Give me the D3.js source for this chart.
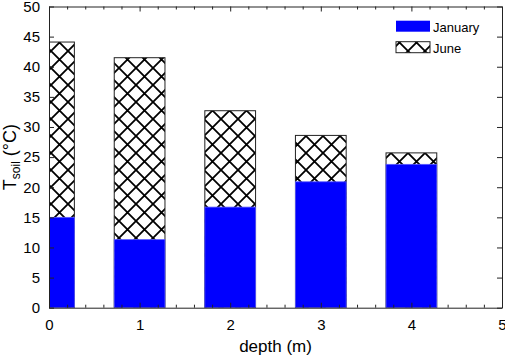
<!DOCTYPE html>
<html>
<head>
<meta charset="utf-8">
<script src="https://cdn.jsdelivr.net/npm/d3@7/dist/d3.min.js"></script>
<style>
  body { margin: 0; background: #fff; }
  svg { display: block; font-family: "Liberation Sans", Arial, sans-serif; }
</style>
</head>
<body>
<div id="chart"></div>
<script>
const depths = [0, 1, 2, 3, 4];
const january = [15.0, 11.3, 16.7, 20.9, 23.8];
const june = [44.1, 41.5, 32.7, 28.6, 25.7];
const xTicks = [0, 1, 2, 3, 4, 5];
const yTicks = [0, 5, 10, 15, 20, 25, 30, 35, 40, 45, 50];
const seriesNames = ['January', 'June'];

const width = 505, height = 362;
const margin = { top: 6.5, right: 3, bottom: 54.3, left: 49 };
const plotW = width - margin.left - margin.right;
const plotH = height - margin.top - margin.bottom;
const barWidth = 0.56;

const svg = d3.select('#chart').append('svg')
    .attr('width', width)
    .attr('height', height);

const defs = svg.append('defs');
const tile = 17;
const hatch = defs.append('pattern')
    .attr('id', 'hatch')
    .attr('patternUnits', 'userSpaceOnUse')
    .attr('width', tile)
    .attr('height', tile);
hatch.append('rect').attr('width', tile).attr('height', tile).attr('fill', '#fff');
// two diagonals plus corner pieces so the strokes join across tiles
hatch.append('path')
    .attr('d', `M0,0L${tile},${tile}M-4,${tile - 4}L4,${tile + 4}M${tile - 4},-4L${tile + 4},4` +
               `M0,${tile}L${tile},0M-4,4L4,-4M${tile - 4},${tile + 4}L${tile + 4},${tile - 4}`)
    .attr('stroke', '#000')
    .attr('stroke-width', 1.8)
    .attr('fill', 'none');

defs.append('clipPath').attr('id', 'plotClip')
    .append('rect')
    .attr('x', margin.left).attr('y', margin.top)
    .attr('width', plotW).attr('height', plotH);

const x = d3.scaleLinear().domain([0, 5]).range([margin.left, margin.left + plotW]);
const y = d3.scaleLinear().domain([0, 50]).range([margin.top + plotH, margin.top]);

const bars = svg.append('g').attr('clip-path', 'url(#plotClip)');

// June drawn behind, January in front
bars.selectAll('rect.june')
    .data(depths)
    .enter().append('rect')
    .attr('class', 'june')
    .attr('x', d => x(d - barWidth / 2))
    .attr('width', x(barWidth) - x(0))
    .attr('y', (d, i) => y(june[i]))
    .attr('height', (d, i) => y(0) - y(june[i]))
    .attr('fill', 'url(#hatch)')
    .attr('stroke', '#222')
    .attr('stroke-width', 1);

bars.selectAll('rect.jan')
    .data(depths)
    .enter().append('rect')
    .attr('class', 'jan')
    .attr('x', d => x(d - barWidth / 2))
    .attr('width', x(barWidth) - x(0))
    .attr('y', (d, i) => y(january[i]))
    .attr('height', (d, i) => y(0) - y(january[i]))
    .attr('fill', '#0000ff')
    .attr('stroke', '#5a5aff')
    .attr('stroke-width', 0.8);

// axes, ticks pointing inward on all four sides
const minorX = d3.range(0, 5.001, 0.2).filter(v => Math.abs(v - Math.round(v)) > 1e-6);

const styleAxis = g => {
    g.select('.domain').attr('stroke', '#222');
    g.selectAll('.tick line').attr('stroke', '#222');
    g.selectAll('.tick text').attr('fill', '#000').style('font-size', '15px');
};

svg.append('g')
    .attr('transform', `translate(0,${y(0)})`)
    .call(d3.axisBottom(x).tickValues(xTicks).tickFormat(d3.format('d')).tickSizeInner(-5).tickSizeOuter(0).tickPadding(12))
    .call(styleAxis);
svg.append('g')
    .attr('transform', `translate(0,${y(0)})`)
    .call(d3.axisBottom(x).tickValues(minorX).tickFormat('').tickSizeInner(-3).tickSizeOuter(0))
    .call(g => g.select('.domain').remove())
    .call(g => g.selectAll('line').attr('stroke', '#222'));

svg.append('g')
    .attr('transform', `translate(0,${y(50)})`)
    .call(d3.axisTop(x).tickValues(xTicks).tickFormat('').tickSizeInner(-5).tickSizeOuter(0))
    .call(styleAxis);
svg.append('g')
    .attr('transform', `translate(0,${y(50)})`)
    .call(d3.axisTop(x).tickValues(minorX).tickFormat('').tickSizeInner(-3).tickSizeOuter(0))
    .call(g => g.select('.domain').remove())
    .call(g => g.selectAll('line').attr('stroke', '#222'));

svg.append('g')
    .attr('transform', `translate(${x(0)},0)`)
    .call(d3.axisLeft(y).tickValues(yTicks).tickFormat(d3.format('d')).tickSizeInner(-5).tickSizeOuter(0).tickPadding(9))
    .call(styleAxis);

svg.append('g')
    .attr('transform', `translate(${x(5)},0)`)
    .call(d3.axisRight(y).tickValues(yTicks).tickFormat('').tickSizeInner(-5).tickSizeOuter(0))
    .call(styleAxis);

// axis titles
svg.append('text')
    .attr('x', x(2.5))
    .attr('y', 352)
    .attr('text-anchor', 'middle')
    .style('font-size', '17px')
    .text('depth (m)');

const yTitle = svg.append('text')
    .attr('transform', `translate(16,${y(25)}) rotate(-90)`)
    .attr('text-anchor', 'middle')
    .style('font-size', '18px');
yTitle.append('tspan').text('T');
yTitle.append('tspan').attr('dy', 4).style('font-size', '12px').text('soil');
yTitle.append('tspan').attr('dy', -4).text(' (°C)');

// legend
const legend = svg.append('g');
const legendFills = ['#0000ff', 'url(#hatch)'];
seriesNames.forEach((name, i) => {
    const ly = 20.7 + i * 21;
    legend.append('rect')
        .attr('x', 396).attr('y', ly)
        .attr('width', 34).attr('height', 11)
        .attr('fill', legendFills[i])
        .attr('stroke', i === 0 ? 'none' : '#222');
    legend.append('text')
        .attr('x', 433).attr('y', ly + 11.5)
        .style('font-size', '13px')
        .text(name);
});
</script>
</body>
</html>
